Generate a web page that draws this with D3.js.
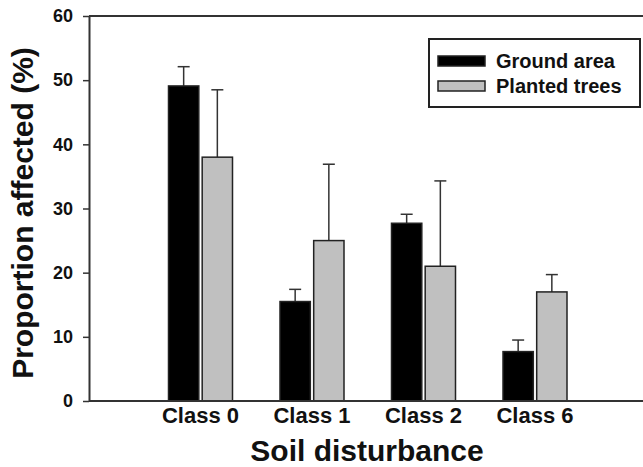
<!DOCTYPE html>
<html><head><meta charset="utf-8">
<script src="https://cdn.jsdelivr.net/npm/d3@7"></script>
<style>html,body{margin:0;padding:0;background:#fff;} svg{display:block;font-family:"Liberation Sans",Arial,sans-serif;font-weight:bold;}</style>
</head><body>
<svg id="chart" width="643" height="467"></svg>
<script>
const categories = ["Class 0", "Class 1", "Class 2", "Class 6"];
const series = ["Ground area", "Planted trees"];
const groundArea = [49.1, 15.5, 27.7, 7.7];
const groundAreaErr = [3.0, 1.9, 1.4, 1.8];
const plantedTrees = [38.0, 25.0, 21.0, 17.0];
const plantedTreesErr = [10.5, 11.9, 13.3, 2.7];
const yTicks = [0, 10, 20, 30, 40, 50, 60];
const colors = ["#000000", "#c0c0c0"];

(function () {
const svg = d3.select("#chart");
const mLeft = 89, mRight = 646.5, mTop = 16, mBottom = 401;

const x = d3.scaleLinear().domain([0, 5]).range([mLeft, mRight]);
const y = d3.scaleLinear().domain([0, 60]).range([mBottom, mTop]);
const inner = d3.scaleBand().domain(series).range([-32, 32]).paddingInner(0.1);

const data = [];
categories.forEach((c, i) => {
  data.push({cat: c, idx: i + 1, s: series[0], v: groundArea[i], e: groundAreaErr[i], col: colors[0]});
  data.push({cat: c, idx: i + 1, s: series[1], v: plantedTrees[i], e: plantedTreesErr[i], col: colors[1]});
});

// error bars
const eg = svg.append("g").attr("stroke", "#333").attr("stroke-width", 1.5);
data.forEach(d => {
  const cx = x(d.idx) + inner(d.s) + inner.bandwidth() / 2;
  eg.append("line").attr("x1", cx).attr("x2", cx).attr("y1", y(d.v)).attr("y2", y(d.v + d.e));
  eg.append("line").attr("x1", cx - 6).attr("x2", cx + 6).attr("y1", y(d.v + d.e)).attr("y2", y(d.v + d.e));
});

// bars
svg.append("g").selectAll("rect").data(data).join("rect")
  .attr("x", d => x(d.idx) + inner(d.s))
  .attr("width", inner.bandwidth())
  .attr("y", d => y(d.v))
  .attr("height", d => y(0) - y(d.v))
  .attr("fill", d => d.col)
  .attr("stroke", "#222")
  .attr("stroke-width", 1.5);

// frame top line
svg.append("line").attr("x1", mLeft).attr("x2", 643).attr("y1", mTop).attr("y2", mTop)
  .attr("stroke", "#333").attr("stroke-width", 2);
// bottom axis line
svg.append("line").attr("x1", mLeft).attr("x2", 643).attr("y1", mBottom).attr("y2", mBottom)
  .attr("stroke", "#333").attr("stroke-width", 2);

// y axis
const yAxis = svg.append("g").attr("transform", `translate(${mLeft},0)`)
  .call(d3.axisLeft(y).tickValues(yTicks).tickSize(6).tickPadding(10).tickSizeOuter(0));
yAxis.select(".domain").attr("stroke", "#333").attr("stroke-width", 2);
yAxis.selectAll(".tick line").attr("stroke", "#333").attr("stroke-width", 1.5);
yAxis.selectAll(".tick text").attr("font-size", 18).attr("font-weight", "bold")
  .attr("font-family", "Liberation Sans, Arial, sans-serif").attr("fill", "#111");

// category labels
svg.append("g").selectAll("text").data(categories).join("text")
  .attr("x", (d, i) => x(i + 1))
  .attr("y", 423)
  .attr("text-anchor", "middle")
  .attr("font-size", 22)
  .attr("fill", "#111")
  .text(d => d);

// axis titles
svg.append("text").attr("x", 367).attr("y", 461).attr("text-anchor", "middle")
  .attr("font-size", 30).attr("fill", "#111").text("Soil disturbance");
svg.append("text").attr("transform", "translate(33,213) rotate(-90)").attr("text-anchor", "middle")
  .attr("font-size", 30).attr("fill", "#111").text("Proportion affected (%)");

// legend
const lg = svg.append("g");
lg.append("rect").attr("x", 429).attr("y", 39).attr("width", 211).attr("height", 68)
  .attr("fill", "#fff").attr("stroke", "#222").attr("stroke-width", 2);
series.forEach((s, i) => {
  lg.append("rect").attr("x", 438).attr("y", 56 + i * 25).attr("width", 47).attr("height", 10)
    .attr("fill", colors[i]).attr("stroke", "#222").attr("stroke-width", 1.5);
  lg.append("text").attr("x", 496).attr("y", 68 + i * 25).attr("font-size", 20)
    .attr("fill", "#111").text(s);
});
})();
</script>
</body></html>
